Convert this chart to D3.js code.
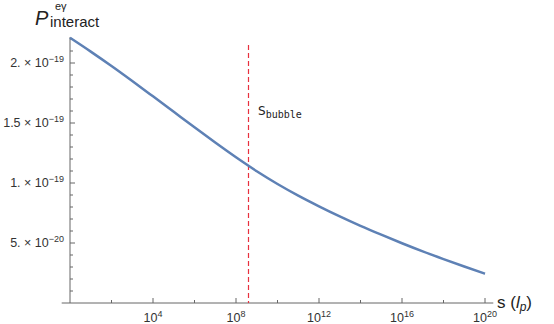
<!DOCTYPE html>
<html>
<head>
<meta charset="utf-8">
<script src="https://cdn.jsdelivr.net/npm/d3@7"></script>
<style>
body { margin: 0; background: white; }
svg { display: block; font-family: 'Liberation Sans', Arial, sans-serif; }
.tick-label { font-size: 12.5px; fill: #333; }
.axis-line { stroke: #666; stroke-width: 1; }
</style>
</head>
<body>
<script>
// log10 of s (in Planck lengths), and the interaction probability
var logS = [0, 1, 2, 3, 4, 5, 6, 7, 8, 9, 10, 11, 12, 13, 14, 15, 16, 17, 18, 19, 20];
var pInteract = [2.210e-19, 2.095e-19, 1.975e-19, 1.850e-19, 1.722e-19, 1.593e-19, 1.464e-19,
                 1.337e-19, 1.214e-19, 1.098e-19, 0.992e-19, 0.895e-19, 0.806e-19, 0.722e-19,
                 0.643e-19, 0.569e-19, 0.498e-19, 0.430e-19, 0.366e-19, 0.304e-19, 0.244e-19];

var sBubble = 3.6e8;

var xMajor = [1e4, 1e8, 1e12, 1e16, 1e20];
var xMajorExp = ["4", "8", "12", "16", "20"];
var xMinor = [1e2, 1e6, 1e10, 1e14, 1e18];

var yMajor = [5e-20, 1e-19, 1.5e-19, 2e-19];
var yMantissa = ["5.", "1.", "1.5", "2."];
var yExp = ["\u221220", "\u221219", "\u221219", "\u221219"];
var yMinor = d3.range(1, 23).map(function (k) { return k * 1e-20; })
    .filter(function (v) { return Math.round(v / 1e-20) % 5 != 0; });

var width = 554, height = 324;

var svg = d3.select("body").append("svg")
    .attr("width", width)
    .attr("height", height);

var x = d3.scaleLog().domain([1, 1e20]).range([70, 485]);
var y = d3.scaleLinear().domain([0, 2.2e-19]).range([303, 39]);

// axes lines
svg.append("line").attr("class", "axis-line")
    .attr("x1", x(Math.pow(10, -0.4))).attr("x2", x(Math.pow(10, 20.4)))
    .attr("y1", y(0)).attr("y2", y(0));
svg.append("line").attr("class", "axis-line")
    .attr("x1", x(1)).attr("x2", x(1))
    .attr("y1", y(0)).attr("y2", y(2.215e-19));

// x ticks
svg.selectAll(".xmaj").data(xMajor).enter().append("line")
    .attr("class", "axis-line")
    .attr("x1", d => x(d)).attr("x2", d => x(d))
    .attr("y1", y(0)).attr("y2", y(0) - 5);
svg.selectAll(".xmin").data(xMinor).enter().append("line")
    .attr("class", "axis-line")
    .attr("x1", d => x(d)).attr("x2", d => x(d))
    .attr("y1", y(0)).attr("y2", y(0) - 3);

var xl = svg.selectAll(".xl").data(xMajor).enter().append("text")
    .attr("class", "tick-label")
    .attr("x", d => x(d))
    .attr("y", 322)
    .attr("text-anchor", "middle");
xl.append("tspan").text("10");
xl.append("tspan").attr("dy", -5).attr("font-size", "9px").text((d, i) => xMajorExp[i]);

// y ticks
svg.selectAll(".ymaj").data(yMajor).enter().append("line")
    .attr("class", "axis-line")
    .attr("x1", x(1)).attr("x2", x(1) + 5)
    .attr("y1", d => y(d)).attr("y2", d => y(d));
svg.selectAll(".ymin").data(yMinor).enter().append("line")
    .attr("class", "axis-line")
    .attr("x1", x(1)).attr("x2", x(1) + 3)
    .attr("y1", d => y(d)).attr("y2", d => y(d));

var yl = svg.selectAll(".yl").data(yMajor).enter().append("text")
    .attr("class", "tick-label")
    .attr("x", 64)
    .attr("y", d => y(d) + 4)
    .attr("text-anchor", "end");
yl.append("tspan").text((d, i) => yMantissa[i] + " \u00d7 10");
yl.append("tspan").attr("dy", -5).attr("font-size", "9px").text((d, i) => yExp[i]);

// s_bubble marker
svg.append("line")
    .attr("x1", Math.round(x(sBubble)) + 0.5).attr("x2", Math.round(x(sBubble)) + 0.5)
    .attr("y1", 45).attr("y2", y(0))
    .attr("stroke", "#e8303e")
    .attr("stroke-width", 1.2)
    .attr("stroke-dasharray", "5,3");

var sb = svg.append("text")
    .attr("x", 258).attr("y", 115)
    .attr("fill", "#222");
sb.append("tspan").attr("font-family", "'DejaVu Sans', sans-serif").attr("font-size", "12px").text("S");
sb.append("tspan").attr("font-family", "'DejaVu Sans Mono', monospace").attr("font-size", "10px")
    .attr("dy", 3).text("bubble");

// curve
var line = d3.line()
    .x((d, i) => x(Math.pow(10, logS[i])))
    .y(d => y(d))
    .curve(d3.curveMonotoneX);

svg.append("path")
    .datum(pInteract)
    .attr("d", line)
    .attr("fill", "none")
    .attr("stroke", "#5e81b5")
    .attr("stroke-width", 2.5);

// axis titles
svg.append("text").attr("x", 35).attr("y", 25).attr("fill", "#222")
    .attr("font-style", "italic").attr("font-size", "20px").text("P");
svg.append("text").attr("x", 55).attr("y", 10).attr("fill", "#222")
    .attr("font-size", "11px").text("e\u03b3");
svg.append("text").attr("x", 50).attr("y", 27).attr("fill", "#222")
    .attr("font-size", "15px").text("interact");

var xt = svg.append("text").attr("x", 497).attr("y", 308).attr("fill", "#222")
    .attr("font-size", "17px");
xt.append("tspan").text("s (");
xt.append("tspan").attr("font-style", "italic").text("l");
xt.append("tspan").attr("font-style", "italic").attr("font-size", "12px").attr("dy", 3).text("p");
xt.append("tspan").attr("dy", -3).text(")");
</script>
</body>
</html>
